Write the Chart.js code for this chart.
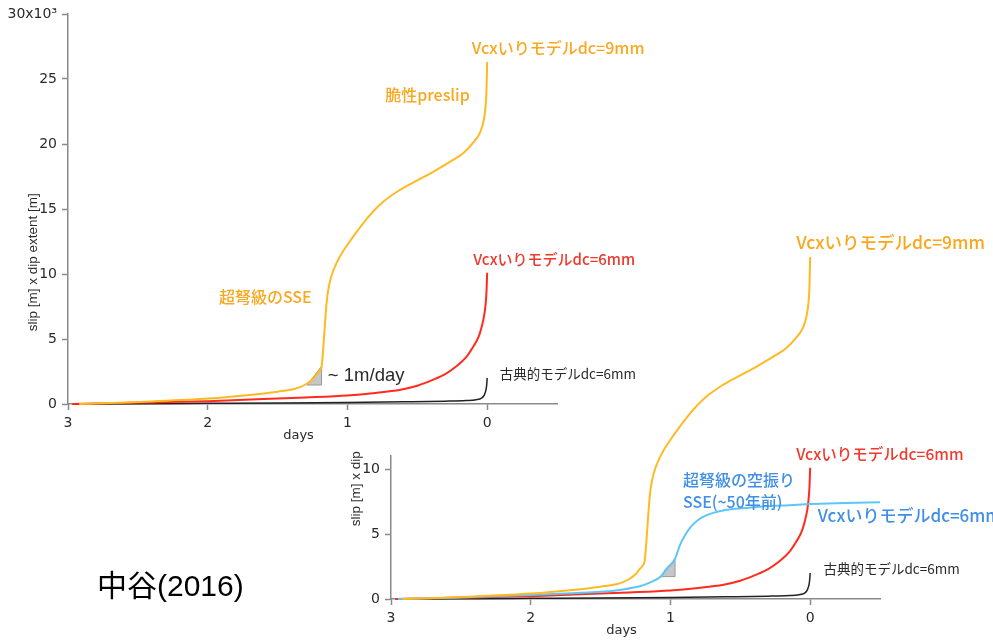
<!DOCTYPE html>
<html>
<head>
<meta charset="utf-8">
<script src="https://cdn.jsdelivr.net/npm/chart.js@4/dist/chart.umd.min.js"></script>
<style>
body { margin: 0; background: #fff; }
#wrap { position: relative; width: 993px; height: 641px; overflow: hidden; }
#wrap canvas { position: absolute; left: 0; top: 0; }
</style>
</head>
<body>
<div id="wrap">
	<canvas id="upper_canvas" width="993" height="641"></canvas>
	<canvas id="lower_canvas" width="993" height="641"></canvas>
</div>
<script>
// days before failure, slip x dip extent in units of 10^3 m
const dayTicks = [3, 2, 1, 0];
const upperSlipTicks = [0, 5, 10, 15, 20, 25, 30];
const lowerSlipTicks = [0, 5, 10];

// Vcx model, dc = 9mm
const dc9Days = [2.92, 2.7, 2.4, 2.0, 1.7, 1.5, 1.38, 1.3, 1.25, 1.22, 1.2, 1.185, 1.175, 1.165, 1.155, 1.145, 1.13, 1.11, 1.08, 1.04, 0.99, 0.93, 0.85, 0.75, 0.62, 0.5, 0.38, 0.27, 0.17, 0.1, 0.05, 0.025, 0.012, 0.005, 0.0];
const dc9Slip = [0.0, 0.08, 0.2, 0.42, 0.7, 0.95, 1.15, 1.5, 1.9, 2.3, 2.55, 2.9, 4.0, 5.5, 7.0, 8.2, 9.2, 10.0, 10.8, 11.6, 12.4, 13.3, 14.4, 15.5, 16.5, 17.2, 17.9, 18.6, 19.3, 20.1, 20.9, 21.8, 22.8, 24.0, 26.3];

// Vcx model, dc = 6mm
const dc6Days = [2.97, 2.7, 2.4, 2.0, 1.6, 1.3, 1.0, 0.8, 0.62, 0.5, 0.39, 0.3, 0.22, 0.15, 0.1, 0.06, 0.04, 0.02, 0.01, 0.004, 0.0];
const dc6Slip = [0.0, 0.05, 0.12, 0.22, 0.38, 0.5, 0.65, 0.85, 1.1, 1.4, 1.85, 2.3, 2.9, 3.6, 4.4, 5.2, 5.9, 6.9, 7.8, 8.8, 10.1];

// classic model, dc = 6mm
const classicDays = [2.95, 2.5, 2.0, 1.5, 1.0, 0.6, 0.3, 0.15, 0.08, 0.04, 0.02, 0.008, 0.003, 0.0];
const classicSlip = [0.0, 0.02, 0.05, 0.08, 0.12, 0.17, 0.22, 0.27, 0.33, 0.45, 0.7, 1.1, 1.5, 2.0];

// aborted SSE, Vcx model dc = 6mm
const sseDays = [2.95, 2.5, 2.0, 1.7, 1.5, 1.35, 1.22, 1.14, 1.067, 1.03, 0.967, 0.93, 0.89, 0.85, 0.8, 0.74, 0.65, 0.55, 0.4, 0.3, 0.15, 0.0, -0.25, -0.5];
const sseSlip = [0.0, 0.12, 0.3, 0.45, 0.55, 0.72, 0.98, 1.3, 1.75, 2.3, 3.1, 4.2, 5.0, 5.6, 6.1, 6.45, 6.75, 6.92, 7.05, 7.15, 7.22, 7.3, 7.38, 7.45];

// slope wedges (~1 m/day)
const upperWedgeDays = [1.29, 1.185, 1.185, 1.29];
const upperWedgeSlip = [1.46, 1.46, 2.9, 1.46];
const lowerWedgeDays = [1.067, 0.967, 0.967, 1.067];
const lowerWedgeSlip = [1.72, 1.72, 3.05, 1.72];

const ORANGE = '#ffb922';
const ORANGE_TEXT = '#f9a71e';
const RED = '#ff2b1c';
const RED_TEXT = '#f0382c';
const BLUE = '#5cc6f6';
const BLUE_TEXT = '#3f8fe6';
const DARK = '#2a2a2a';
const AXIS = '#8a8a8a';
const JP = '"Noto Sans CJK JP", sans-serif';

const pts = (xs, ys) => xs.map((x, i) => ({ x: x, y: ys[i] }));

function curve(xs, ys, color, width) {
	return {
		data: pts(xs, ys),
		showLine: true,
		borderColor: color,
		borderWidth: width,
		pointRadius: 0,
		cubicInterpolationMode: 'monotone',
		fill: false,
		clip: false
	};
}

function wedge(xs, ys) {
	return {
		data: pts(xs, ys),
		showLine: true,
		borderColor: '#9a9a9a',
		borderWidth: 1,
		backgroundColor: '#c6c6c6',
		pointRadius: 0,
		tension: 0,
		fill: 'shape',
		clip: false
	};
}

// free text: notes in data coordinates, axis titles relative to the axes
function notesPlugin(notes, titleClipTop) {
	return {
		id: 'notes',
		afterDraw(chart) {
			const ctx = chart.ctx;
			const x = chart.scales.x;
			const y = chart.scales.y;
			ctx.save();
			ctx.textBaseline = 'middle';
			ctx.textAlign = 'left';
			for (const n of notes) {
				ctx.fillStyle = n.color;
				ctx.font = `${n.weight || 400} ${n.size}px ${n.family || JP}`;
				ctx.fillText(n.text, x.getPixelForValue(n.d), y.getPixelForValue(n.v));
			}

			ctx.fillStyle = DARK;
			ctx.textAlign = 'center';
			ctx.font = '13px "DejaVu Sans", sans-serif';
			ctx.fillText('days', x.getPixelForValue(1.35), y.bottom + 32);

			ctx.save();
			ctx.beginPath();
			ctx.rect(0, titleClipTop, chart.width, chart.height);
			ctx.clip();
			ctx.translate(x.left - 35, y.getPixelForValue(10.9));
			ctx.rotate(-Math.PI / 2);
			ctx.font = '13.5px "Liberation Sans", sans-serif';
			ctx.fillText('slip [m] x dip extent [m]', 0, 0);
			ctx.restore();
			ctx.restore();
		}
	};
}

function MakeChart(canvas, datasets, slipMax, slipTicks, padding, notes, titleClipTop) {
	return new Chart(canvas.getContext('2d'), {
		type: 'scatter',
		data: { datasets: datasets },
		plugins: [notesPlugin(notes, titleClipTop)],
		options: {
			responsive: false,
			animation: false,
			devicePixelRatio: 1,
			layout: { padding: padding },
			plugins: { legend: { display: false }, tooltip: { enabled: false } },
			scales: {
				x: {
					type: 'linear',
					reverse: true,
					min: -0.5,
					max: 3,
					afterBuildTicks: s => { s.ticks = dayTicks.map(v => ({ value: v })); },
					afterFit: s => { s.height = 40; },
					border: { color: AXIS, width: 1.5 },
					grid: { drawOnChartArea: false, tickLength: 6, tickColor: AXIS, tickWidth: 1.5 },
					ticks: { color: DARK, padding: 5, maxRotation: 0, font: { family: 'DejaVu Sans', size: 14 } }
				},
				y: {
					min: 0,
					max: slipMax,
					afterBuildTicks: s => { s.ticks = slipTicks.map(v => ({ value: v })); },
					afterFit: s => { s.width = 60; },
					border: { color: AXIS, width: 1.5 },
					grid: { drawOnChartArea: false, tickLength: 6, tickColor: AXIS, tickWidth: 1.5 },
					ticks: {
						color: DARK,
						padding: 5,
						font: { family: 'DejaVu Sans', size: 14 },
						callback: v => v === 30 ? '30x10³' : String(v)
					}
				}
			}
		}
	});
}

const upperNotes = [
	{ text: 'Vcxいりモデルdc=9mm', d: 0.11, v: 27.4, color: ORANGE_TEXT, size: 16, weight: 500 },
	{ text: '脆性preslip', d: 0.73, v: 23.75, color: ORANGE_TEXT, size: 16, weight: 500 },
	{ text: 'Vcxいりモデルdc=6mm', d: 0.1, v: 11.15, color: RED_TEXT, size: 15, weight: 500 },
	{ text: '超弩級のSSE', d: 1.92, v: 8.2, color: ORANGE_TEXT, size: 16, weight: 500 },
	{ text: '~ 1m/day', d: 1.14, v: 2.15, color: DARK, size: 18.5, weight: 400, family: '"Liberation Sans", sans-serif' },
	{ text: '古典的モデルdc=6mm', d: -0.09, v: 2.3, color: DARK, size: 13.5, weight: 400 }
];

const lowerNotes = [
	{ text: 'Vcxいりモデルdc=9mm', d: 0.1, v: 27.4, color: ORANGE_TEXT, size: 17.5, weight: 500 },
	{ text: 'Vcxいりモデルdc=6mm', d: 0.1, v: 11.15, color: RED_TEXT, size: 15.5, weight: 500 },
	{ text: '超弩級の空振り', d: 0.91, v: 9.15, color: BLUE_TEXT, size: 16, weight: 500 },
	{ text: 'SSE(~50年前)', d: 0.91, v: 7.5, color: BLUE_TEXT, size: 16, weight: 500 },
	{ text: 'Vcxいりモデルdc=6mm', d: -0.055, v: 6.45, color: BLUE_TEXT, size: 17, weight: 500 },
	{ text: '古典的モデルdc=6mm', d: -0.095, v: 2.3, color: DARK, size: 13.5, weight: 400 }
];

MakeChart(
	window.upper_canvas,
	[
		curve(dc9Days, dc9Slip, ORANGE, 2),
		curve(dc6Days, dc6Slip, RED, 2),
		curve(classicDays, classicSlip, '#222', 1.5),
		wedge(upperWedgeDays, upperWedgeSlip)
	],
	30, upperSlipTicks,
	{ left: 8, top: 14, right: 436, bottom: 197 },
	upperNotes, 0
);

MakeChart(
	window.lower_canvas,
	[
		curve(dc9Days, dc9Slip, ORANGE, 2),
		curve(sseDays, sseSlip, BLUE, 2),
		curve(dc6Days, dc6Slip, RED, 2),
		curve(classicDays, classicSlip, '#222', 1.5),
		wedge(lowerWedgeDays, lowerWedgeSlip)
	],
	11, lowerSlipTicks,
	{ left: 331, top: 456, right: 113, bottom: 2 },
	lowerNotes, 447
);

// citation
const citeCtx = window.lower_canvas.getContext('2d');
citeCtx.fillStyle = '#000';
citeCtx.font = '400 30px "Liberation Sans", "Noto Sans CJK JP", sans-serif';
citeCtx.textBaseline = 'middle';
citeCtx.fillText('中谷(2016)', 97, 588);
</script>
</body>
</html>
